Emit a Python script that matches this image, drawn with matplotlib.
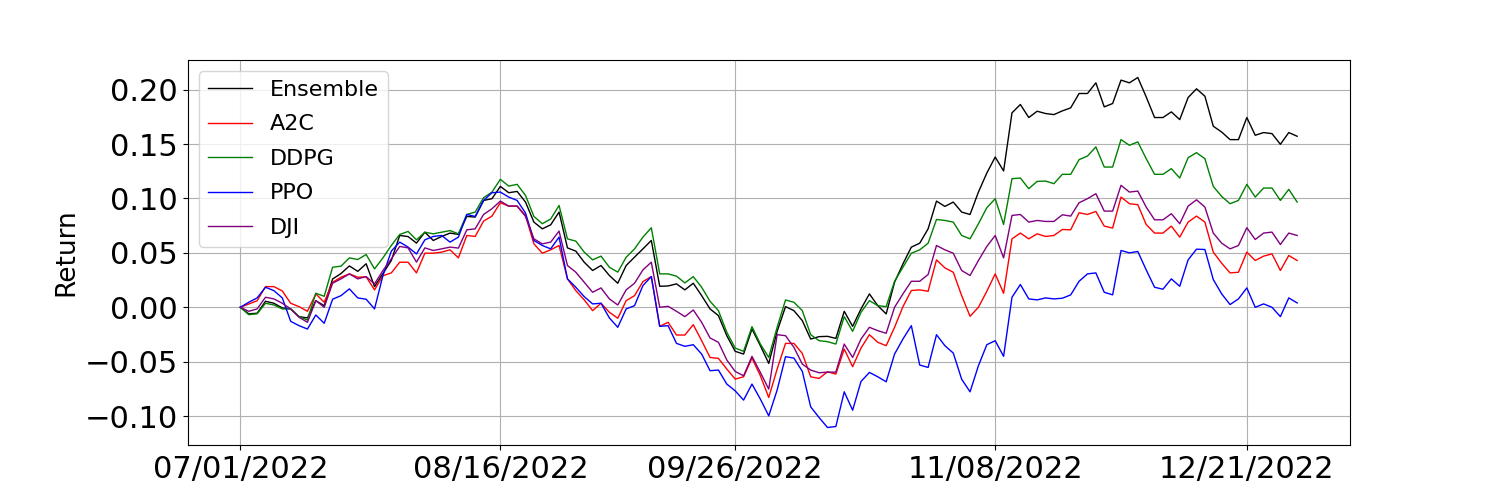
import numpy as np
import matplotlib
matplotlib.use('Agg')
import matplotlib.pyplot as plt
from matplotlib.ticker import MultipleLocator

ensemble = [0, -0.006, -0.0055, 0.0055, 0.0037, -0.0006, -0.0015, -0.0086, -0.0098, 0.006, 0.0015, 0.026, 0.031, 0.038, 0.033, 0.040, 0.019, 0.031, 0.043, 0.066, 0.065, 0.059, 0.069,
            0.0614, 0.0651, 0.0682, 0.0670, 0.0835, 0.0829, 0.0982, 0.0998, 0.1111, 0.1053, 0.1065, 0.0967, 0.0783, 0.0721, 0.0758, 0.0875, 0.0546, 0.0516, 0.0414, 0.0338, 0.0384, 0.0292, 0.0221,
            0.0384, 0.0461, 0.0537, 0.0614, 0.0193, 0.0196, 0.0215, 0.0160, 0.0221, 0.0107, -0.0015, -0.0077, -0.0261, -0.0405, -0.0430, -0.0200, -0.0353, -0.0516, -0.0221, 0.0006, -0.0031, -0.0123,
            -0.0292, -0.0270, -0.0267, -0.0286, -0.0037, -0.0175, -0.0015, 0.0123, 0.0015, -0.0061, 0.0230, 0.0399, 0.0553, 0.0589, 0.0721, 0.0976, 0.0927, 0.0967, 0.0875, 0.0853, 0.1059, 0.1234, 0.1381,
            0.1253, 0.1787, 0.1864, 0.1744, 0.1802, 0.1781, 0.1771, 0.1805, 0.1833, 0.1965, 0.1965, 0.2063, 0.1842, 0.1873, 0.2088, 0.2063, 0.2112, 0.1934, 0.1744, 0.1744, 0.1796, 0.1725,
            0.1928, 0.2008, 0.1940, 0.1664, 0.1611, 0.1541, 0.1541, 0.1744, 0.1581, 0.1606, 0.1596, 0.1498, 0.1606, 0.1572]

a2c = [0, 0.003, 0.006, 0.019, 0.019, 0.015, 0.0037, 0.0006, -0.0037, 0.0123, 0.0046, 0.023, 0.0276, 0.0307, 0.0276, 0.028, 0.016, 0.029, 0.0316, 0.0414, 0.0414, 0.0316, 0.0497,
       0.0497, 0.0507, 0.0528, 0.0454, 0.0660, 0.0651, 0.0792, 0.0838, 0.0961, 0.0930, 0.0930, 0.0844, 0.0583, 0.0497, 0.0528, 0.0568, 0.0261, 0.0153, 0.0068, -0.0031, 0.0037, -0.0046, -0.0101,
       0.0061, 0.0107, 0.0236, 0.0282, -0.0175, -0.0138, -0.0255, -0.0255, -0.0160, -0.0307, -0.0461, -0.0470, -0.0568, -0.0660, -0.0639, -0.0467, -0.0629, -0.0829, -0.0568, -0.0332, -0.0332, -0.0424,
       -0.0639, -0.0654, -0.0593, -0.0614, -0.0384, -0.0546, -0.0375, -0.0252, -0.0322, -0.0353, -0.0184, 0.0006, 0.0154, 0.0160, 0.0147, 0.0436, 0.0362, 0.0322, 0.0107, -0.0083, 0.0, 0.0147, 0.0307,
       0.0129, 0.0629, 0.0682, 0.0629, 0.0675, 0.0651, 0.0660, 0.0715, 0.0712, 0.0869, 0.0853, 0.0881, 0.0746, 0.0728, 0.1013, 0.0952, 0.0943, 0.0761, 0.0682, 0.0682, 0.0746, 0.0645,
       0.0783, 0.0838, 0.0783, 0.0507, 0.0405, 0.0316, 0.0322, 0.0507, 0.0430, 0.0470, 0.0491, 0.0338, 0.0476, 0.0430]

ddpg = [0, -0.0068, -0.006, 0.0037, 0.0021, -0.0015, -0.0015, -0.0086, -0.0117, 0.0129, 0.0101, 0.0368, 0.0378, 0.0454, 0.0439, 0.0485, 0.0353, 0.0454, 0.0568, 0.0669, 0.0697, 0.0620, 0.0690,
        0.0675, 0.069, 0.0705, 0.0675, 0.0853, 0.0875, 0.1007, 0.1059, 0.1176, 0.1114, 0.1130, 0.1028, 0.0835, 0.0768, 0.0811, 0.0936, 0.0629, 0.0608, 0.0507, 0.0436, 0.0470, 0.0368, 0.0323,
        0.0460, 0.0537, 0.0645, 0.0731, 0.0307, 0.0307, 0.0286, 0.0224, 0.0282, 0.0184, 0.0055, -0.0031, -0.0230, -0.0375, -0.0405, -0.0178, -0.0338, -0.0461, -0.0184, 0.0067, 0.0046, -0.0031,
        -0.0252, -0.0307, -0.0316, -0.0338, -0.0086, -0.0221, -0.0046, 0.0061, 0.0015, 0.0006, 0.0239, 0.0368, 0.0497, 0.0528, 0.0589, 0.0807, 0.0798, 0.0783, 0.0660, 0.0629, 0.0768, 0.0915, 0.0998,
        0.0761, 0.1182, 0.1188, 0.1090, 0.1157, 0.1160, 0.1136, 0.1222, 0.1222, 0.1357, 0.1390, 0.1474, 0.1289, 0.1289, 0.1541, 0.1489, 0.1520, 0.1366, 0.1222, 0.1222, 0.1274, 0.1188,
        0.1375, 0.1421, 0.1366, 0.1111, 0.1019, 0.0952, 0.0982, 0.1130, 0.1013, 0.1096, 0.1096, 0.0982, 0.1084, 0.0967]

ppo = [0, 0.0046, 0.0086, 0.0184, 0.0153, 0.0086, -0.0129, -0.0169, -0.0200, -0.0071, -0.0147, 0.0074, 0.0107, 0.0169, 0.0086, 0.0074, -0.0015, 0.0292, 0.0516, 0.0599, 0.0553, 0.049, 0.0620,
       0.0651, 0.0660, 0.0599, 0.0645, 0.0853, 0.0835, 0.0982, 0.1053, 0.1059, 0.1013, 0.0982, 0.0866, 0.0614, 0.0568, 0.0537, 0.0645, 0.0261, 0.0184, 0.0098, 0.0031, 0.0037, -0.0098, -0.0184,
       -0.0015, 0.0015, 0.0200, 0.0282, -0.0175, -0.0169, -0.0332, -0.0359, -0.0344, -0.0430, -0.0583, -0.0577, -0.0706, -0.0768, -0.0853, -0.0706, -0.0844, -0.0998, -0.0761, -0.0454, -0.0467, -0.0589,
       -0.0915, -0.1013, -0.1105, -0.1096, -0.0777, -0.0946, -0.0682, -0.0599, -0.0639, -0.0685, -0.0430, -0.0292, -0.0169, -0.0531, -0.0553, -0.0252, -0.0353, -0.0421, -0.0661, -0.0777, -0.0537, -0.0344, -0.0307,
       -0.0451, 0.0092, 0.0209, 0.0077, 0.0068, 0.0086, 0.0077, 0.0083, 0.0114, 0.0239, 0.0307, 0.0316, 0.0138, 0.0114, 0.0522, 0.0500, 0.0513, 0.0344, 0.0184, 0.0166, 0.0261, 0.0193,
       0.0436, 0.0534, 0.0531, 0.0255, 0.0123, 0.0025, 0.0077, 0.0178, 0.0, 0.0031, 0.0, -0.0086, 0.0086, 0.0040]

dji = [0, -0.0037, -0.0015, 0.0092, 0.0077, 0.0037, -0.0015, -0.0092, -0.0138, 0.0061, 0, 0.0221, 0.0261, 0.0307, 0.0261, 0.0282, 0.0215, 0.0338, 0.0445, 0.0559, 0.0546, 0.0415, 0.0546,
       0.0522, 0.0537, 0.0553, 0.0544, 0.0712, 0.0721, 0.0853, 0.0906, 0.0976, 0.0930, 0.0930, 0.0835, 0.0629, 0.0583, 0.0599, 0.0700, 0.0384, 0.0322, 0.0230, 0.0138, 0.0178, 0.0077, 0.0021,
       0.0160, 0.0221, 0.0344, 0.0414, 0.0, 0.0009, -0.0037, -0.0086, -0.0025, -0.0138, -0.0282, -0.0322, -0.0485, -0.0590, -0.0630, -0.0451, -0.0599, -0.0752, -0.0252, -0.0261, -0.0368, -0.0522,
       -0.0577, -0.0602, -0.0596, -0.0596, -0.0338, -0.0461, -0.0292, -0.0184, -0.0215, -0.0239, 0.0, 0.0123, 0.0239, 0.0239, 0.0301, 0.0568, 0.0528, 0.0497, 0.0338, 0.0292, 0.0430, 0.0559, 0.0660,
       0.0454, 0.0844, 0.0853, 0.0783, 0.0798, 0.0789, 0.0789, 0.0850, 0.0838, 0.0961, 0.0998, 0.1044, 0.0884, 0.0884, 0.1121, 0.1059, 0.1068, 0.0921, 0.0804, 0.0804, 0.0860, 0.0768,
       0.0930, 0.0988, 0.0921, 0.0682, 0.0589, 0.0537, 0.0568, 0.0731, 0.0623, 0.0682, 0.0691, 0.0577, 0.0682, 0.0660]

tick_idx = [0, 31, 59, 90, 120]
tick_labels = ['07/01/2022', '08/16/2022', '09/26/2022', '11/08/2022', '12/21/2022']

x = np.arange(len(ensemble))

fig, ax = plt.subplots(figsize=(15, 5), dpi=100)
ax.plot(x, ensemble, color='black', lw=1, label='Ensemble')
ax.plot(x, a2c, color='red', lw=1, label='A2C')
ax.plot(x, ddpg, color='green', lw=1, label='DDPG')
ax.plot(x, ppo, color='blue', lw=1, label='PPO')
ax.plot(x, dji, color='purple', lw=1, label='DJI')
ax.set_xticks(tick_idx)
ax.set_xticklabels(tick_labels)
ax.yaxis.set_major_locator(MultipleLocator(0.05))
ax.tick_params(labelsize=22)
ax.set_ylabel('Return', fontsize=19)
ax.grid(True)
ax.legend(loc='upper left', fontsize=16, labelspacing=0.65)
plt.savefig('out.png')
